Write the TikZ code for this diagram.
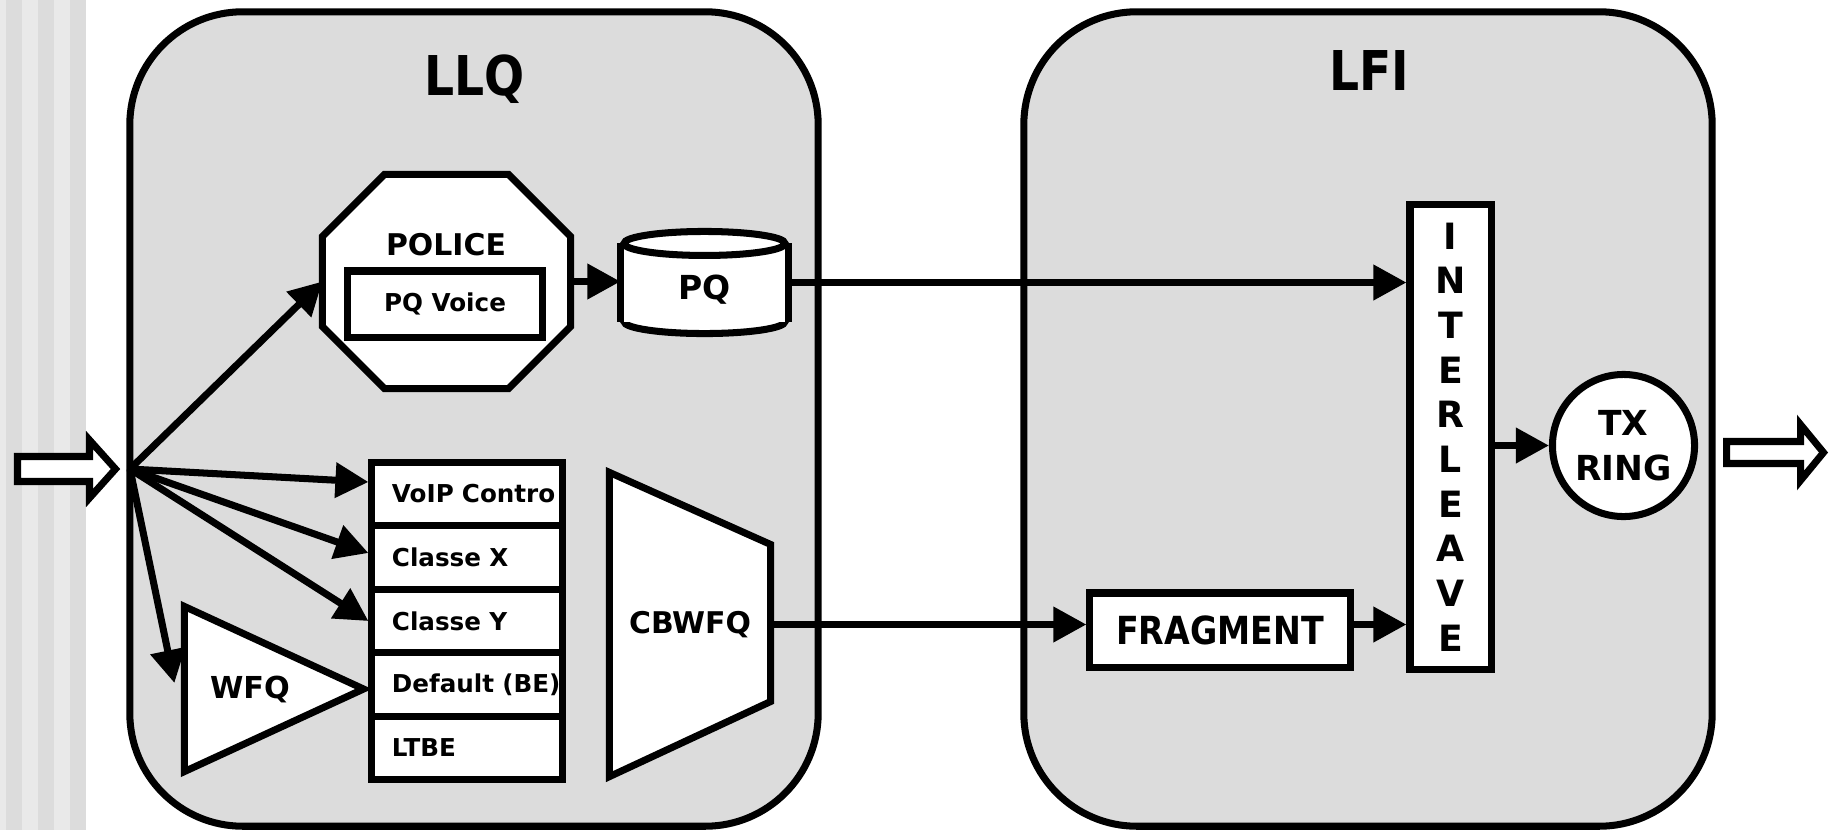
\documentclass[tikz,border=0pt]{standalone}
\usepackage{fontspec}
\setmainfont{DejaVu Sans}
\newfontfamily\narrowfont{DejaVu Sans}[FakeStretch=0.86]
\usetikzlibrary{arrows.meta}

\definecolor{panelgray}{HTML}{DCDCDC}
\definecolor{stripelight}{HTML}{E9E9E9}
\newcommand\lblfont[2]{\bfseries\fontsize{#1}{#2}\selectfont}

\begin{document}
\begin{tikzpicture}[x=0.01cm,y=-0.01cm,line width=2pt,>={Triangle[length=0.33cm,width=0.34cm]},
  panel/.style={draw,fill=panelgray,rounded corners=1.13cm,minimum width=6.88cm,minimum height=8.14cm},
  unit/.style={draw,fill=white},
  classrow/.style={draw,fill=white,minimum width=1.9cm,minimum height=0.636cm,text width=1.5cm,inner xsep=0.2cm,align=left,font=\lblfont{7}{8}}]
\useasboundingbox (0,0) rectangle (1830,830);
\fill[stripelight] (0,0) rectangle (85,830);
\foreach \x in {6,38,70} \fill[panelgray] (\x,0) rectangle ++(16,830);

\node[panel](llq) at (474,419) {};
\node[panel](lfi) at (1368,419) {};
\node[anchor=base,font=\narrowfont\lblfont{15.6}{18}](llqtitle) at (475,95) {LLQ};
\node[anchor=base,font=\narrowfont\lblfont{15.6}{18}](lfititle) at (1369,90) {LFI};

\draw[fill=white] (17.5,456.5) -- (89.5,456.5) -- (89.5,440) -- (115.5,469) -- (89.5,498) -- (89.5,481.5) -- (17.5,481.5) -- cycle;
\draw[fill=white] (1726.5,441.5) -- (1800.5,441.5) -- (1800.5,424.5) -- (1823.5,452.5) -- (1800.5,480.5) -- (1800.5,463.5) -- (1726.5,463.5) -- cycle;
\coordinate (in) at (130,469);

\node[minimum width=2.41cm,minimum height=2.07cm](police) at (446.5,281.5) {};
\draw[fill=white] ([xshift=0.62cm]police.north west) -- ([xshift=-0.62cm]police.north east)
  -- ([yshift=-0.62cm]police.north east) -- ([yshift=0.62cm]police.south east)
  -- ([xshift=-0.62cm]police.south east) -- ([xshift=0.62cm]police.south west)
  -- ([yshift=0.62cm]police.south west) -- ([yshift=-0.62cm]police.north west) -- cycle;
\node[anchor=base,font=\lblfont{8.5}{10}](policetext) at (446,255) {POLICE};
\node[unit,minimum width=1.94cm,minimum height=0.66cm,font=\lblfont{7}{8}](pqvoice) at (445,304) {PQ Voice};

\node[minimum width=1.61cm,minimum height=0.95cm](pq) at (704.5,282.5) {};
\draw[fill=white] ([yshift=0.12cm]pq.south) ellipse [x radius=80.5,y radius=12];
\fill[white] ([yshift=-0.12cm]pq.north west) rectangle ([yshift=0.12cm]pq.south east);
\draw ([yshift=-0.12cm]pq.north west) -- ([yshift=0.12cm]pq.south west)
  ([yshift=-0.12cm]pq.north east) -- ([yshift=0.12cm]pq.south east);
\draw[fill=white] ([yshift=-0.12cm]pq.north) ellipse [x radius=80.5,y radius=12];
\node[font=\lblfont{9.4}{11}](pqtext) at ([yshift=-0.075cm]pq.center) {PQ};

\node[classrow](voip) at (467,494) {\mbox{VoIP Contro}};
\node[classrow](clx) at (467,557.5) {Classe X};
\node[classrow](cly) at (467,621) {Classe Y};
\node[classrow](dflt) at (467,684.5) {\mbox{Default (BE)}};
\node[classrow](ltbe) at (467,748) {LTBE};

\node[minimum width=1.72cm,minimum height=1.58cm](wfq) at (274,689) {};
\draw[fill=white] (wfq.north west) -- (wfq.east) -- (wfq.south west) -- cycle;
\node[font=\lblfont{8.6}{10}](wfqtext) at (250,689) {WFQ};

\node[minimum width=1.54cm,minimum height=2.97cm](cbwfq) at (690,624.5) {};
\draw[fill=white] (cbwfq.north west) -- ([yshift=-0.72cm]cbwfq.north east) -- ([yshift=0.75cm]cbwfq.south east) -- (cbwfq.south west) -- cycle;
\node[font=\lblfont{8.5}{10}](cbwfqtext) at (cbwfq) {CBWFQ};

\node[unit,minimum width=2.6cm,minimum height=0.74cm,font=\narrowfont\lblfont{11}{13}](frag) at (1220,630) {FRAGMENT};
\node[unit,minimum width=0.81cm,minimum height=4.64cm,align=center,font=\lblfont{10.3}{12.7}](ilv) at (1450.5,437) {I\\N\\T\\E\\R\\L\\E\\A\\V\\E};
\node[unit,circle,minimum size=1.42cm,inner sep=0pt,align=center,font=\lblfont{9.8}{12.8}](tx) at (1623.5,445.5) {TX\\RING};

\draw[->](in)--(police.west);
\draw[->](in)--([yshift=0.12cm]voip.west);
\draw[->](in)--([yshift=0.045cm]clx.west);
\draw[->](in)--(cly.west);
\draw[->](in)--([xshift=-0.1cm,yshift=0.06cm]wfq.west);
\draw[->](police.east)--(police.east -| pq.west);
\draw[->](pq.east)--(pq.east -| ilv.west);
\draw[->](cbwfq.east)--(cbwfq.east -| frag.west);
\draw[->](cbwfq.east -| frag.east)--(cbwfq.east -| ilv.west);
\draw[->](tx.west -| ilv.east)--(tx.west);
\end{tikzpicture}
\end{document}
